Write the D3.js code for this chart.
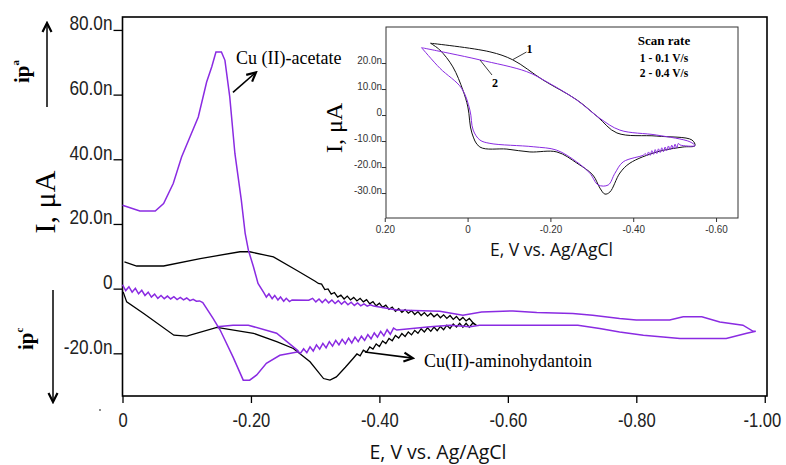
<!DOCTYPE html>
<html>
<head>
<meta charset="utf-8">
<script src="https://cdn.jsdelivr.net/npm/d3@7"></script>
<style>
  body { margin: 0; background: #fff; }
  svg { display: block; }
  .main-axis text { font-family: 'Liberation Sans', Arial, sans-serif; font-size: 21px; fill: #222; }
  .inset-axis text { font-family: 'Liberation Sans', Arial, sans-serif; font-size: 11px; fill: #333; }
  .serif { font-family: 'Liberation Serif', 'Times New Roman', serif; }
</style>
</head>
<body>
<div id="chart"></div>
<script>
'use strict';

// main chart ticks
const mainXTicks = [0, -0.2, -0.4, -0.6, -0.8, -1.0];
const mainXLabels = ['0', '-0.20', '-0.40', '-0.60', '-0.80', '-1.00'];
const mainYTicks = [80, 60, 40, 20, 0, -20];
const mainYLabels = ['80.0n', '60.0n', '40.0n', '20.0n', '0', '-20.0n'];

// inset ticks
const insetXTicks = [0.2, 0, -0.2, -0.4, -0.6];
const insetXLabels = ['0.20', '0', '-0.20', '-0.40', '-0.60'];
const insetYTicks = [20, 10, 0, -10, -20, -30];
const insetYLabels = ['20.0n', '10.0n', '0', '-10.0n', '-20.0n', '-30.0n'];

// Cu (II)-acetate, [E (V), I (n)]
const acetateScan = [
    [0, 25.8], [-0.027, 24.0], [-0.051, 24.0], [-0.064, 26.3], [-0.079, 32.5], [-0.092, 40.7], [-0.105, 46.9],
    [-0.118, 53.1], [-0.131, 63.9], [-0.139, 68.6], [-0.1455, 73.2], [-0.154, 73.2], [-0.1595, 70.6], [-0.167, 59.3],
    [-0.175, 41.8], [-0.185, 27.4], [-0.191, 17.1], [-0.196, 11.9], [-0.204, 6.7], [-0.211, 1.6], [-0.220, -1.2],
    [-0.224, -2.6], [-0.228, -1.6], [-0.233, -3.1], [-0.237, -2.1], [-0.242, -3.5], [-0.246, -2.6], [-0.251, -3.9],
    [-0.255, -3.0], [-0.260, -4.0], [-0.264, -3.5], [-0.290, -3.6],
    [-0.296, -3.0], [-0.301, -4.1], [-0.306, -3.2], [-0.311, -4.3], [-0.316, -3.3], [-0.321, -4.4], [-0.326, -3.5],
    [-0.331, -4.6], [-0.336, -3.7], [-0.341, -4.8], [-0.346, -3.9], [-0.351, -5.0], [-0.356, -4.2], [-0.361, -5.2],
    [-0.366, -4.4], [-0.371, -5.3], [-0.376, -4.7], [-0.381, -5.4], [-0.386, -5.0], [-0.391, -5.4],
    [-0.427, -6.6], [-0.494, -7.0], [-0.530, -8.2], [-0.559, -7.2], [-0.608, -6.9], [-0.645, -7.4], [-0.701, -7.7],
    [-0.732, -8.2], [-0.774, -9.2], [-0.800, -9.7], [-0.852, -9.7], [-0.873, -8.7], [-0.902, -8.7], [-0.930, -10.3],
    [-0.966, -11.3], [-0.982, -13.2], [-0.986, -13.2],
    [-0.972, -13.8], [-0.940, -15.4], [-0.868, -15.4], [-0.811, -14.4], [-0.774, -13.4], [-0.743, -12.3],
    [-0.709, -11.3], [-0.556, -11.3], [-0.541, -11.8], [-0.510, -11.3], [-0.479, -11.8], [-0.427, -12.8],
    [-0.422, -12.2], [-0.417, -14.1], [-0.412, -12.7], [-0.407, -14.6], [-0.402, -13.2], [-0.397, -15.0],
    [-0.392, -13.7], [-0.387, -15.5], [-0.382, -14.2], [-0.377, -16.0], [-0.372, -14.7], [-0.367, -16.4],
    [-0.362, -15.0], [-0.357, -16.8], [-0.352, -15.3], [-0.347, -17.1], [-0.342, -15.7], [-0.337, -17.4],
    [-0.332, -16.0], [-0.327, -17.8], [-0.322, -16.4], [-0.317, -18.3], [-0.312, -16.9], [-0.307, -18.7],
    [-0.302, -17.4], [-0.297, -19.3], [-0.292, -18.0], [-0.287, -19.8], [-0.282, -18.6], [-0.277, -20.0],
    [-0.274, -19.5],
    [-0.245, -20.6], [-0.224, -23.1], [-0.209, -26.7], [-0.198, -28.3], [-0.188, -28.3], [-0.172, -21.1],
    [-0.152, -12.8], [-0.141, -9.2], [-0.125, -4.3],
    [-0.120, -3.8], [-0.115, -3.9], [-0.110, -3.3], [-0.105, -3.7], [-0.100, -2.9], [-0.095, -3.5], [-0.090, -2.7],
    [-0.085, -3.4], [-0.080, -2.5], [-0.075, -3.2], [-0.070, -2.3], [-0.065, -3.1], [-0.060, -2.1], [-0.055, -3.0],
    [-0.050, -1.7], [-0.045, -2.6], [-0.040, -1.1], [-0.035, -2.1], [-0.030, -0.5], [-0.025, -1.6], [-0.020, 0.1],
    [-0.015, -1.1], [-0.010, 0.6], [-0.005, -0.6], [0, 1.2]
];
const acetateLoop = [[-0.147, -11.8], [-0.172, -11.3], [-0.196, -11.3], [-0.240, -13.8], [-0.274, -19.3]];

// Cu(II)-aminohydantoin
const aminohydantoinScan = [
    [-0.003, 8.3], [-0.022, 7.0], [-0.064, 7.0], [-0.121, 9.3], [-0.183, 11.4], [-0.198, 11.4], [-0.235, 9.8],
    [-0.271, 5.7], [-0.300, 2.3],
    [-0.305, 1.6], [-0.310, 1.4], [-0.315, -0.3], [-0.320, -0.1], [-0.325, -1.7], [-0.330, -1.2], [-0.335, -2.6],
    [-0.340, -2.0], [-0.345, -3.2], [-0.350, -2.3], [-0.355, -3.5], [-0.360, -2.7], [-0.365, -3.8], [-0.370, -3.0],
    [-0.375, -4.1], [-0.380, -3.4], [-0.385, -4.7], [-0.390, -4.0], [-0.395, -5.3], [-0.400, -4.5], [-0.405, -5.8],
    [-0.410, -5.1], [-0.415, -6.4], [-0.420, -5.7], [-0.425, -7.0], [-0.430, -6.2], [-0.435, -7.3], [-0.440, -6.5],
    [-0.445, -7.6], [-0.450, -6.8], [-0.455, -8.0], [-0.460, -7.1], [-0.465, -8.3], [-0.470, -7.4], [-0.475, -8.5],
    [-0.480, -7.6], [-0.485, -8.7], [-0.490, -7.9], [-0.495, -9.0], [-0.500, -8.1], [-0.505, -9.2], [-0.510, -8.3],
    [-0.515, -9.5], [-0.520, -8.6], [-0.525, -9.8], [-0.530, -8.9], [-0.535, -10.0], [-0.540, -9.2], [-0.545, -10.4],
    [-0.551, -11.3],
    [-0.545, -10.7], [-0.540, -11.9], [-0.535, -10.7], [-0.530, -11.9], [-0.525, -10.7], [-0.520, -11.9],
    [-0.515, -10.9], [-0.510, -12.3], [-0.505, -11.3], [-0.500, -12.7], [-0.495, -11.7], [-0.490, -13.0],
    [-0.485, -11.9], [-0.480, -13.2], [-0.475, -12.1], [-0.470, -13.4], [-0.465, -12.4], [-0.460, -13.8],
    [-0.455, -12.9], [-0.450, -14.3], [-0.445, -13.4], [-0.440, -14.8], [-0.435, -13.9], [-0.430, -15.3],
    [-0.425, -14.5], [-0.420, -16.1], [-0.415, -15.4], [-0.410, -17.0], [-0.405, -16.2], [-0.400, -17.9],
    [-0.395, -17.1], [-0.390, -18.7], [-0.385, -18.0], [-0.380, -19.6], [-0.375, -19.0], [-0.370, -20.8],
    [-0.365, -20.2], [-0.359, -21.6],
    [-0.347, -24.3], [-0.333, -27.3], [-0.323, -28.3], [-0.313, -27.8], [-0.292, -22.6], [-0.266, -18.5],
    [-0.240, -16.4], [-0.204, -13.8], [-0.147, -12.0], [-0.100, -14.7], [-0.080, -14.4], [-0.033, -7.7],
    [-0.0065, -4.1], [-0.001, -1.0]
];

// inset: scan rate 1 (0.1 V/s) and 2 (0.4 V/s)
const insetScan1 = [
    [0.0894, 27.6], [-0.0539, 24.3], [-0.1094, 21.2], [-0.1819, 13.5], [-0.264, 5.8], [-0.3147, -0.8],
    [-0.3606, -6.9], [-0.4572, -8.1], [-0.5418, -9.6], [-0.549, -11.8], [-0.52, -12.3], [-0.4572, -14.2],
    [-0.392, -18.5], [-0.3678, -22.3], [-0.3437, -29.6], [-0.3316, -30.4], [-0.3196, -28.1], [-0.3027, -23.1],
    [-0.264, -18.5], [-0.2157, -14.2], [-0.1505, -14.2], [-0.0949, -13.1], [-0.0297, -12.3], [-0.0104, -6.9],
    [-0.0007, 3.1], [0.0114, 9.6], [0.0355, 18.5], [0.0669, 25.0], [0.0894, 27.6]
];
const insetScan2 = [
    [0.1111, 25.9], [0.0428, 23.7], [-0.0297, 21.2], [-0.1425, 16.7], [-0.1908, 12.8], [-0.2633, 5.8],
    [-0.3196, -1.3], [-0.3678, -5.8], [-0.4565, -7.7], [-0.537, -10.3], [-0.549, -11.8], [-0.513, -11.5],
    [-0.509, -10.9], [-0.505, -12.7], [-0.501, -11.2], [-0.497, -13.0], [-0.493, -11.6], [-0.489, -13.4],
    [-0.485, -11.9], [-0.481, -13.7], [-0.477, -12.3], [-0.473, -14.1], [-0.469, -12.6], [-0.465, -14.4],
    [-0.461, -13.0], [-0.457, -14.8], [-0.453, -13.3], [-0.449, -15.1], [-0.445, -13.7], [-0.441, -15.5],
    [-0.437, -14.2], [-0.433, -15.6], [-0.429, -14.8], [-0.425, -15.4],
    [-0.3758, -18.0], [-0.3558, -22.4], [-0.3396, -26.9], [-0.3155, -26.9], [-0.2954, -22.4], [-0.2633, -18.0],
    [-0.215, -13.5], [-0.1585, -12.2], [-0.0539, -10.9], [-0.0297, -9.6], [-0.0135, -5.8], [-0.0056, 1.9],
    [0.0145, 10.3], [0.0669, 18.0], [0.1111, 25.9]
];

const black = '#000';
const purple = '#8a2be2';

// squeeze tick labels horizontally (the source uses a narrow face)
function condense(sel, dx, dy, k) {
    sel.attr('x', 0).attr('y', 0).attr('dy', null)
        .attr('transform', `translate(${dx},${dy}) scale(${k},1)`);
}

const svg = d3.select('#chart').append('svg')
    .attr('width', 786)
    .attr('height', 465);

const defs = svg.append('defs');
defs.append('marker')
    .attr('id', 'head')
    .attr('viewBox', '0 0 12 12')
    .attr('refX', 10).attr('refY', 6)
    .attr('markerUnits', 'userSpaceOnUse')
    .attr('markerWidth', 12).attr('markerHeight', 12)
    .attr('orient', 'auto')
    .append('path')
    .attr('d', 'M1,1.5 L10,6 L1,10.5')
    .attr('fill', 'none').attr('stroke', '#000').attr('stroke-width', 2.2);

// ---------- main chart ----------
const x = d3.scaleLinear().domain([0, -1.0035]).range([122.5, 767]);
const y = d3.scaleLinear().domain([84, -33.2]).range([17, 396]);

const xAxis = svg.append('g')
    .attr('class', 'main-axis')
    .attr('transform', 'translate(0,396)')
    .call(d3.axisBottom(x).tickValues(mainXTicks).tickFormat((d, i) => mainXLabels[i]).tickSize(7).tickSizeOuter(0));
xAxis.select('.domain').remove();
xAxis.selectAll('line').attr('stroke', '#000').attr('stroke-width', 1.3);
xAxis.selectAll('text').call(condense, 0, 31, 0.79);
// the last label sits against the right edge of the page
xAxis.selectAll('text').filter((d, i) => i === mainXTicks.length - 1)
    .attr('text-anchor', 'end').call(condense, 16, 31, 0.79);

const yAxis = svg.append('g')
    .attr('class', 'main-axis')
    .attr('transform', 'translate(122.5,0)')
    .call(d3.axisLeft(y).tickValues(mainYTicks).tickFormat((d, i) => mainYLabels[i]).tickSize(9).tickSizeOuter(0));
yAxis.select('.domain').remove();
yAxis.selectAll('line').attr('stroke', '#000').attr('stroke-width', 1.3);
yAxis.selectAll('text').call(condense, -10, 0, 0.82);

svg.append('rect')
    .attr('x', x(0)).attr('y', y(84))
    .attr('width', x(-1.0035) - x(0)).attr('height', y(-33.2) - y(84))
    .attr('fill', 'none').attr('stroke', '#000').attr('stroke-width', 1.6);

const line = d3.line().x(d => x(d[0])).y(d => y(d[1]));

svg.append('path').datum(aminohydantoinScan)
    .attr('d', line).attr('fill', 'none').attr('stroke', black).attr('stroke-width', 1.3);
svg.append('path').datum(acetateScan)
    .attr('d', line).attr('fill', 'none').attr('stroke', purple).attr('stroke-width', 1.5);
svg.append('path').datum(acetateLoop)
    .attr('d', line).attr('fill', 'none').attr('stroke', purple).attr('stroke-width', 1.5);

// annotations
svg.append('line')
    .attr('x1', x(-0.172)).attr('y1', y(60.7)).attr('x2', x(-0.2078)).attr('y2', y(66.9))
    .attr('stroke', '#000').attr('stroke-width', 1.6).attr('marker-end', 'url(#head)');
svg.append('text').attr('class', 'serif')
    .attr('x', 236).attr('y', 63.5)
    .style('font-size', '18px')
    .text('Cu (II)-acetate');

svg.append('line')
    .attr('x1', x(-0.3774)).attr('y1', y(-19.6)).attr('x2', x(-0.4521)).attr('y2', y(-21.5))
    .attr('stroke', '#000').attr('stroke-width', 1.6).attr('marker-end', 'url(#head)');
svg.append('text').attr('class', 'serif')
    .attr('x', 424).attr('y', 366.5)
    .style('font-size', '18px')
    .text('Cu(II)-aminohydantoin');

svg.append('text')
    .attr('x', 438).attr('y', 459)
    .attr('text-anchor', 'middle')
    .style('font-family', "'Open Sans', sans-serif")
    .style('font-size', '19.5px')
    .attr('fill', '#111')
    .text('E, V vs. Ag/AgCl');

svg.append('text').attr('class', 'serif')
    .attr('transform', 'translate(55,202) rotate(-90)')
    .attr('text-anchor', 'middle')
    .style('font-size', '30px')
    .text('I, μA');

// stray dot left of the x axis in the source
svg.append('circle').attr('cx', 100).attr('cy', 410).attr('r', 0.9).attr('fill', '#555');

// anodic / cathodic peak markers
const ipA = svg.append('text').attr('class', 'serif')
    .attr('transform', 'translate(29,83) rotate(-90)')
    .style('font-size', '21px').style('font-weight', 'bold');
ipA.append('tspan').text('ip');
ipA.append('tspan').attr('dy', -10).style('font-size', '11px').text('a');
svg.append('line').attr('x1', 47).attr('y1', 107).attr('x2', 47).attr('y2', 23)
    .attr('stroke', '#000').attr('stroke-width', 1.5).attr('marker-end', 'url(#head)');

const ipC = svg.append('text').attr('class', 'serif')
    .attr('transform', 'translate(33,350) rotate(-90)')
    .style('font-size', '21px').style('font-weight', 'bold');
ipC.append('tspan').text('ip');
ipC.append('tspan').attr('dy', -10).style('font-size', '11px').text('c');
svg.append('line').attr('x1', 53).attr('y1', 290).attr('x2', 53).attr('y2', 402)
    .attr('stroke', '#000').attr('stroke-width', 1.5).attr('marker-end', 'url(#head)');

// ---------- inset ----------
const xi = d3.scaleLinear().domain([0.197, -0.653]).range([386, 738]);
const yi = d3.scaleLinear().domain([33.85, -39.6]).range([27, 218]);

const xiAxis = svg.append('g')
    .attr('class', 'inset-axis')
    .attr('transform', 'translate(0,218)')
    .call(d3.axisBottom(xi).tickValues(insetXTicks).tickFormat((d, i) => insetXLabels[i]).tickSize(4).tickSizeOuter(0));
xiAxis.select('.domain').remove();
xiAxis.selectAll('line').attr('stroke', '#333');
xiAxis.selectAll('text').call(condense, 0, 15, 0.9);

const yiAxis = svg.append('g')
    .attr('class', 'inset-axis')
    .attr('transform', 'translate(386,0)')
    .call(d3.axisLeft(yi).tickValues(insetYTicks).tickFormat((d, i) => insetYLabels[i]).tickSize(4).tickSizeOuter(0));
yiAxis.select('.domain').remove();
yiAxis.selectAll('line').attr('stroke', '#333');
yiAxis.selectAll('text').call(condense, -4, 0, 0.9);

svg.append('rect')
    .attr('x', xi(0.197)).attr('y', yi(33.85))
    .attr('width', xi(-0.653) - xi(0.197)).attr('height', yi(-39.6) - yi(33.85))
    .attr('fill', 'none').attr('stroke', '#333').attr('stroke-width', 1);

const insetLine = d3.line().x(d => xi(d[0])).y(d => yi(d[1])).curve(d3.curveCatmullRom);

svg.append('path').datum(insetScan1)
    .attr('d', insetLine).attr('fill', 'none').attr('stroke', '#111').attr('stroke-width', 1);
svg.append('path').datum(insetScan2)
    .attr('d', insetLine).attr('fill', 'none').attr('stroke', purple).attr('stroke-width', 1);

// curve labels
svg.append('line').attr('x1', 513).attr('y1', 59.5).attr('x2', 526.5).attr('y2', 52)
    .attr('stroke', '#222').attr('stroke-width', 0.9);
svg.append('text').attr('class', 'serif')
    .attr('x', 529.5).attr('y', 53).attr('text-anchor', 'middle')
    .style('font-size', '12px').style('font-weight', 'bold').text('1');
svg.append('line').attr('x1', 480).attr('y1', 60).attr('x2', 492).attr('y2', 75)
    .attr('stroke', '#222').attr('stroke-width', 0.9);
svg.append('text').attr('class', 'serif')
    .attr('x', 495).attr('y', 87).attr('text-anchor', 'middle')
    .style('font-size', '12px').style('font-weight', 'bold').text('2');

const legend = svg.append('g').attr('class', 'serif').style('font-weight', 'bold').attr('text-anchor', 'middle');
legend.append('text').attr('x', 664).attr('y', 44.5).style('font-size', '13px').text('Scan rate');
legend.append('text').attr('x', 664).attr('y', 62).style('font-size', '11.5px').text('1 - 0.1 V/s');
legend.append('text').attr('x', 664).attr('y', 77).style('font-size', '11.5px').text('2 - 0.4 V/s');

svg.append('text')
    .attr('x', 551.5).attr('y', 256)
    .attr('text-anchor', 'middle')
    .style('font-family', "'Open Sans', sans-serif")
    .style('font-size', '17.5px')
    .attr('fill', '#111')
    .text('E, V vs. Ag/AgCl');

svg.append('text').attr('class', 'serif')
    .attr('transform', 'translate(342,128) rotate(-90)')
    .attr('text-anchor', 'middle')
    .style('font-size', '24px')
    .text('I, μA');
</script>
</body>
</html>
